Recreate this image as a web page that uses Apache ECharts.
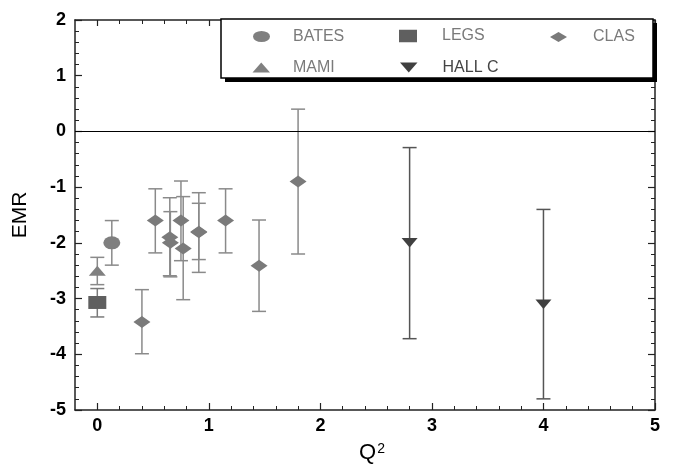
<!DOCTYPE html>
<html>
<head>
<meta charset="utf-8">
<script src="https://cdn.jsdelivr.net/npm/echarts@6/dist/echarts.min.js"></script>
<style>
html,body{margin:0;padding:0;background:#fff;}
#chart{width:675px;height:465px;}
</style>
</head>
<body>
<div id="chart"></div>
<script>
// ---- Data ----
var xTickLabels = [0, 1, 2, 3, 4, 5];
var yTickLabels = [-5, -4, -3, -2, -1, 0, 1, 2];

var batesQ2 = [0.13];
var batesEMR = [-2.0];
var batesLow = [-2.40];
var batesHigh = [-1.60];

var legsQ2 = [0.0];
var legsEMR = [-3.07];
var legsLow = [-3.33];
var legsHigh = [-2.82];

var mamiQ2 = [0.0];
var mamiEMR = [-2.50];
var mamiLow = [-2.75];
var mamiHigh = [-2.26];

var clasQ2 = [0.40, 0.52, 0.65, 0.655, 0.75, 0.77, 0.91, 0.91, 1.15, 1.45, 1.80];
var clasEMR = [-3.42, -1.60, -1.90, -2.00, -1.60, -2.10, -1.81, -1.80, -1.60, -2.41, -0.90];
var clasLow = [-3.99, -2.18, -2.59, -2.61, -2.32, -3.02, -2.53, -2.30, -2.18, -3.23, -2.20];
var clasHigh = [-2.84, -1.03, -1.19, -1.44, -0.89, -1.17, -1.10, -1.29, -1.03, -1.59, 0.40];

var hallcQ2 = [2.80, 4.00];
var hallcEMR = [-2.00, -3.10];
var hallcLow = [-3.72, -4.80];
var hallcHigh = [-0.29, -1.40];

// ---- helpers ----
function pts(xs, ys) { return xs.map(function (x, i) { return [x, ys[i]]; }); }
function bars(xs, lo, hi) { return xs.map(function (x, i) { return [x, lo[i], hi[i]]; }); }

var minorX = [];
for (var k = 1; k < 26; k++) {
  var v = Math.round((-0.2 + 0.2 * k) * 10) / 10;
  if (Math.abs(v - Math.round(v)) > 1e-6) minorX.push(v);
}

var ELLIPSE = 'path://M0,1 A1,1 0 1,1 2,1 A1,1 0 1,1 0,1 Z';
var DOWNTRI = 'path://M0,0 L10,0 L5,6 Z';
var UPTRI = 'path://M0,6 L10,6 L5,0 Z';
var DIAMOND = 'path://M0,5 L8,0 L16,5 L8,10 Z';
var SQUARE = 'path://M0,0 L10,0 L10,10 L0,10 Z';
var FONT = 'Liberation Sans';

function errorSeries(name, data, color) {
  return {
    type: 'custom',
    name: name + '_err',
    xAxisIndex: 0, yAxisIndex: 0,
    z: 1,
    silent: true,
    data: data,
    encode: { x: 0, y: [1, 2] },
    renderItem: function (params, api) {
      var x = api.value(0), lo = api.value(1), hi = api.value(2);
      var a = api.coord([x, lo]), b = api.coord([x, hi]);
      var hw = 7;
      var st = { stroke: color, lineWidth: 1.5, fill: null };
      return {
        type: 'group',
        children: [
          { type: 'line', shape: { x1: a[0], y1: a[1], x2: b[0], y2: b[1] }, style: st },
          { type: 'line', shape: { x1: a[0] - hw, y1: a[1], x2: a[0] + hw, y2: a[1] }, style: st },
          { type: 'line', shape: { x1: b[0] - hw, y1: b[1], x2: b[0] + hw, y2: b[1] }, style: st }
        ]
      };
    }
  };
}

function scatterSeries(name, data, symbol, size, color) {
  return {
    type: 'scatter',
    name: name,
    xAxisIndex: 0, yAxisIndex: 0,
    z: 3,
    symbol: symbol,
    symbolSize: size,
    symbolKeepAspect: false,
    itemStyle: { color: color, opacity: 1 },
    data: data
  };
}

function legendItem(name, icon, left, top, w, h, pad, color) {
  return {
    data: [{ name: name, icon: icon }],
    left: left, top: top,
    padding: 0,
    itemWidth: w, itemHeight: h,
    symbolKeepAspect: false,
    selectedMode: false,
    z: 5,
    textStyle: { fontFamily: FONT, fontSize: 16, color: color, padding: [0, 0, 0, pad] }
  };
}

var axisLineStyle = { color: '#222', width: 1.5 };

var option = {
  animation: false,
  backgroundColor: '#fff',
  grid: { left: 75, right: 20, top: 20, bottom: 55, containLabel: false, outerBoundsMode: 'none' },
  xAxis: [
    {
      type: 'value', position: 'bottom', min: -0.2, max: 5,
      axisLine: { show: true, onZero: false, lineStyle: axisLineStyle },
      axisTick: { show: true, inside: true, length: 7, customValues: xTickLabels, lineStyle: { color: '#222', width: 1.2 } },
      axisLabel: { customValues: xTickLabels, fontFamily: FONT, fontWeight: 'bold', fontSize: 18, color: '#000', margin: 7 },
      splitLine: { show: false },
      name: '{q|Q}{s|2}',
      nameLocation: 'middle',
      nameGap: 32,
      nameTextStyle: {
        padding: [0, 0, 0, 14],
        verticalAlign: 'top',
        rich: {
          q: { fontFamily: FONT, fontSize: 22, lineHeight: 28, color: '#000', verticalAlign: 'top' },
          s: { fontFamily: FONT, fontSize: 14, lineHeight: 14, color: '#000', verticalAlign: 'top', padding: [0, 0, 0, 1] }
        }
      }
    },
    {
      type: 'value', position: 'bottom', min: -0.2, max: 5,
      axisLine: { show: false, onZero: false },
      axisTick: { show: true, inside: true, length: 4, customValues: minorX, lineStyle: { color: '#222', width: 1 } },
      axisLabel: { show: false },
      splitLine: { show: false }
    },
    {
      type: 'value', position: 'top', min: -0.2, max: 5,
      axisLine: { show: true, onZero: false, lineStyle: axisLineStyle },
      axisTick: { show: true, inside: true, length: 6, customValues: xTickLabels, lineStyle: { color: '#222', width: 1.2 } },
      axisLabel: { show: false },
      splitLine: { show: false }
    },
    {
      type: 'value', position: 'top', min: -0.2, max: 5,
      axisLine: { show: false, onZero: false },
      axisTick: { show: true, inside: true, length: 4, customValues: minorX, lineStyle: { color: '#222', width: 1 } },
      axisLabel: { show: false },
      splitLine: { show: false }
    }
  ],
  yAxis: [
    {
      type: 'value', position: 'left', min: -5, max: 2, interval: 1,
      axisLine: { show: true, onZero: false, lineStyle: axisLineStyle },
      axisTick: { show: true, inside: true, length: 7, lineStyle: { color: '#222', width: 1.2 } },
      minorTick: { show: true, splitNumber: 5, length: 4, lineStyle: { color: '#222', width: 1 } },
      axisLabel: { fontFamily: FONT, fontWeight: 'bold', fontSize: 18, color: '#000', margin: 9 },
      splitLine: { show: false },
      name: 'EMR',
      nameLocation: 'middle',
      nameGap: 44,
      nameTextStyle: { fontFamily: FONT, fontSize: 21, color: '#000' }
    },
    {
      type: 'value', position: 'right', min: -5, max: 2, interval: 1,
      axisLine: { show: true, onZero: false, lineStyle: axisLineStyle },
      axisTick: { show: true, inside: true, length: 7, lineStyle: { color: '#222', width: 1.2 } },
      minorTick: { show: true, splitNumber: 5, length: 4, lineStyle: { color: '#222', width: 1 } },
      axisLabel: { show: false },
      splitLine: { show: false }
    }
  ],
  legend: [
    legendItem('BATES', ELLIPSE, 253, 28.5, 17, 11, 18, '#7a7a7a'),
    legendItem('LEGS', SQUARE, 399, 28, 18, 12.5, 20, '#7a7a7a'),
    legendItem('CLAS', DIAMOND, 550, 29, 17, 10, 21, '#7a7a7a'),
    legendItem('MAMI', UPTRI, 252.5, 59.5, 17.5, 10, 18, '#7a7a7a'),
    legendItem('HALL C', DOWNTRI, 400, 59.5, 17.5, 10, 20, '#444')
  ],
  graphic: [
    { type: 'rect', z: 4, shape: { x: 225, y: 23, width: 432, height: 59 }, style: { fill: '#000' } },
    { type: 'rect', z: 4, shape: { x: 221, y: 19, width: 432, height: 59 }, style: { fill: '#fff', stroke: '#000', lineWidth: 1.5 } }
  ],
  series: [
    errorSeries('BATES', bars(batesQ2, batesLow, batesHigh), '#8a8a8a'),
    errorSeries('LEGS', bars(legsQ2, legsLow, legsHigh), '#7a7a7a'),
    errorSeries('MAMI', bars(mamiQ2, mamiLow, mamiHigh), '#8a8a8a'),
    errorSeries('CLAS', bars(clasQ2, clasLow, clasHigh), '#8a8a8a'),
    errorSeries('HALL C', bars(hallcQ2, hallcLow, hallcHigh), '#555'),
    scatterSeries('BATES', pts(batesQ2, batesEMR), ELLIPSE, [17, 13], '#7f7f7f'),
    scatterSeries('LEGS', pts(legsQ2, legsEMR), SQUARE, [18, 13], '#5f5f5f'),
    scatterSeries('MAMI', pts(mamiQ2, mamiEMR), UPTRI, [17, 10], '#808080'),
    scatterSeries('CLAS', pts(clasQ2, clasEMR), DIAMOND, [17, 12], '#7a7a7a'),
    scatterSeries('HALL C', pts(hallcQ2, hallcEMR), DOWNTRI, [16, 9.5], '#404040'),
    {
      type: 'line', name: 'zero', xAxisIndex: 0, yAxisIndex: 0, data: [], silent: true,
      markLine: {
        silent: true, symbol: ['none', 'none'], animation: false,
        label: { show: false },
        lineStyle: { color: '#000', width: 1.2, type: 'solid' },
        data: [{ yAxis: 0 }]
      }
    }
  ]
};

var chart = echarts.init(document.getElementById('chart'), null, { renderer: 'canvas' });
chart.setOption(option);
</script>
</body>
</html>
